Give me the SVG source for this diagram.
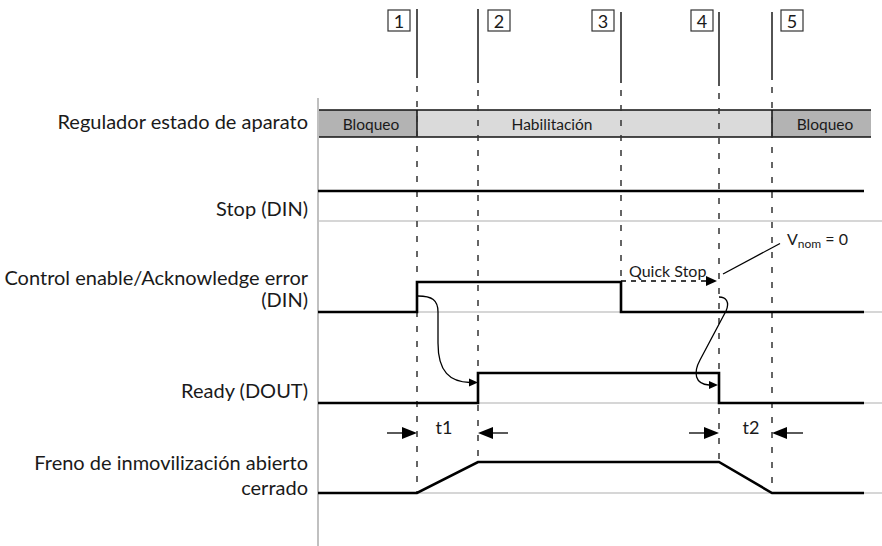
<svg xmlns="http://www.w3.org/2000/svg" width="882" height="546" viewBox="0 0 882 546">
<style>
text{font-family:Lato,"Open Sans","Liberation Sans",sans-serif;fill:#1a1a1a}
.lbl{font-size:20px;text-anchor:end}
.bar{font-size:15.5px;text-anchor:middle}
.num{font-size:18px;text-anchor:middle}
.grid{stroke:#c8c8c8;stroke-width:1.6;fill:none}
.sig{stroke:#000;stroke-width:2.6;fill:none;stroke-linejoin:miter}
.vsolid{stroke:#1a1a1a;stroke-width:1.5}
.vdash{stroke:#333;stroke-width:1.5;stroke-dasharray:6,9}
.box{fill:#fff;stroke:#333;stroke-width:1.2}
.thin{stroke:#000;stroke-width:1.3;fill:none}
.head{fill:#000}
</style>
<rect width="882" height="546" fill="#fff"/>

<g id="axis">
<line x1="318" y1="98" x2="318" y2="546" stroke="#c0c0c0" stroke-width="2"/>
<line class="grid" x1="319" y1="221" x2="882" y2="221"/>
<line class="grid" x1="319" y1="312" x2="882" y2="312"/>
<line class="grid" x1="319" y1="403" x2="882" y2="403"/>
<line class="grid" x1="319" y1="493" x2="882" y2="493"/>
</g>

<g id="state-bar">
<rect x="319" y="110" width="98" height="27" fill="#b3b3b3"/>
<rect x="417" y="110" width="355" height="27" fill="#dadada"/>
<rect x="772" y="110" width="99" height="27" fill="#b3b3b3"/>
<line x1="319" y1="110" x2="871" y2="110" stroke="#111" stroke-width="1.3"/>
<line x1="319" y1="137" x2="871" y2="137" stroke="#111" stroke-width="1.3"/>
<line x1="417" y1="110" x2="417" y2="137" stroke="#111" stroke-width="1.5"/>
<line x1="772" y1="110" x2="772" y2="137" stroke="#111" stroke-width="1.5"/>
<text class="bar" x="371" y="130">Bloqueo</text>
<text class="bar" x="552" y="130">Habilitación</text>
<text class="bar" x="825" y="130">Bloqueo</text>
</g>

<g id="labels">
<text class="lbl" x="308" y="129">Regulador estado de aparato</text>
<text class="lbl" x="308" y="216">Stop (DIN)</text>
<text class="lbl" x="308" y="285">Control enable/Acknowledge error</text>
<text class="lbl" x="308" y="307">(DIN)</text>
<text class="lbl" x="308" y="398">Ready (DOUT)</text>
<text class="lbl" x="308" y="470">Freno de inmovilización abierto</text>
<text class="lbl" x="308" y="495">cerrado</text>
</g>

<g id="markers">
<line class="vsolid" x1="417" y1="9" x2="417" y2="78"/>
<line class="vdash" x1="417" y1="86" x2="417" y2="493"/>
<line class="vsolid" x1="478" y1="9" x2="478" y2="83"/>
<line class="vdash" x1="478" y1="90" x2="478" y2="462"/>
<line class="vsolid" x1="621" y1="12" x2="621" y2="83"/>
<line class="vdash" x1="621" y1="90" x2="621" y2="282"/>
<line class="vsolid" x1="719" y1="12" x2="719" y2="86"/>
<line class="vdash" x1="719" y1="93" x2="719" y2="462"/>
<line class="vsolid" x1="772" y1="12" x2="772" y2="80"/>
<line class="vdash" x1="772" y1="87" x2="772" y2="493"/>
</g>

<g id="num1"><rect class="box" x="388" y="10" width="22" height="21"/><text class="num" x="399" y="27.5">1</text></g>
<g id="num2"><rect class="box" x="488" y="10" width="22" height="21"/><text class="num" x="499" y="27.5">2</text></g>
<g id="num3"><rect class="box" x="592" y="10" width="22" height="21"/><text class="num" x="603" y="27.5">3</text></g>
<g id="num4"><rect class="box" x="691" y="10" width="22" height="21"/><text class="num" x="702" y="27.5">4</text></g>
<g id="num5"><rect class="box" x="781" y="10" width="22" height="21"/><text class="num" x="792" y="27.5">5</text></g>

<g id="signals">
<line class="sig" x1="318" y1="191" x2="864" y2="191"/>
<polyline class="sig" points="318,312 417,312 417,282 621,282 621,312 864,312"/>
<polyline class="sig" points="318,403 478,403 478,373 719,373 719,403 864,403"/>
<polyline class="sig" points="318,493 417,493 478,462 719,462 772,493 864,493"/>
</g>

<g id="connectors">
<path class="thin" d="M418,296 C432,296 438,300 438,312 L438,343 C438,372 450,382 470,382.5"/>
<polygon class="head" points="478,382.5 469,378.5 469,386.5"/>
<path class="thin" d="M719,297 C726,297 730,302 726,311 L700,360 C693,373 695,384 709,385"/>
<polygon class="head" points="718,385 709,381 709,389"/>
<line x1="621" y1="281" x2="707" y2="281" stroke="#000" stroke-width="1.3" stroke-dasharray="5,5"/>
<polygon class="head" points="717,281 706,276 706,286"/>
<line class="thin" x1="723" y1="274" x2="780" y2="243.5"/>
<line class="thin" x1="387" y1="433" x2="404" y2="433"/>
<polygon class="head" points="417,433 402,427 402,439"/>
<line class="thin" x1="508" y1="433" x2="491" y2="433"/>
<polygon class="head" points="478,433 493,427 493,439"/>
<line class="thin" x1="689" y1="433" x2="706" y2="433"/>
<polygon class="head" points="719,433 704,427 704,439"/>
<line class="thin" x1="803" y1="433" x2="786" y2="433"/>
<polygon class="head" points="772,433 787,427 787,439"/>
</g>

<g id="annotations">
<text x="629" y="277" style="font-size:16px">Quick Stop</text>
<text x="787" y="245" style="font-size:16px">V<tspan style="font-size:12px" dy="3">nom</tspan><tspan dy="-3"> = 0</tspan></text>
<text x="444" y="434" style="font-size:18px;text-anchor:middle">t1</text>
<text x="751" y="434" style="font-size:18px;text-anchor:middle">t2</text>
</g>
</svg>
